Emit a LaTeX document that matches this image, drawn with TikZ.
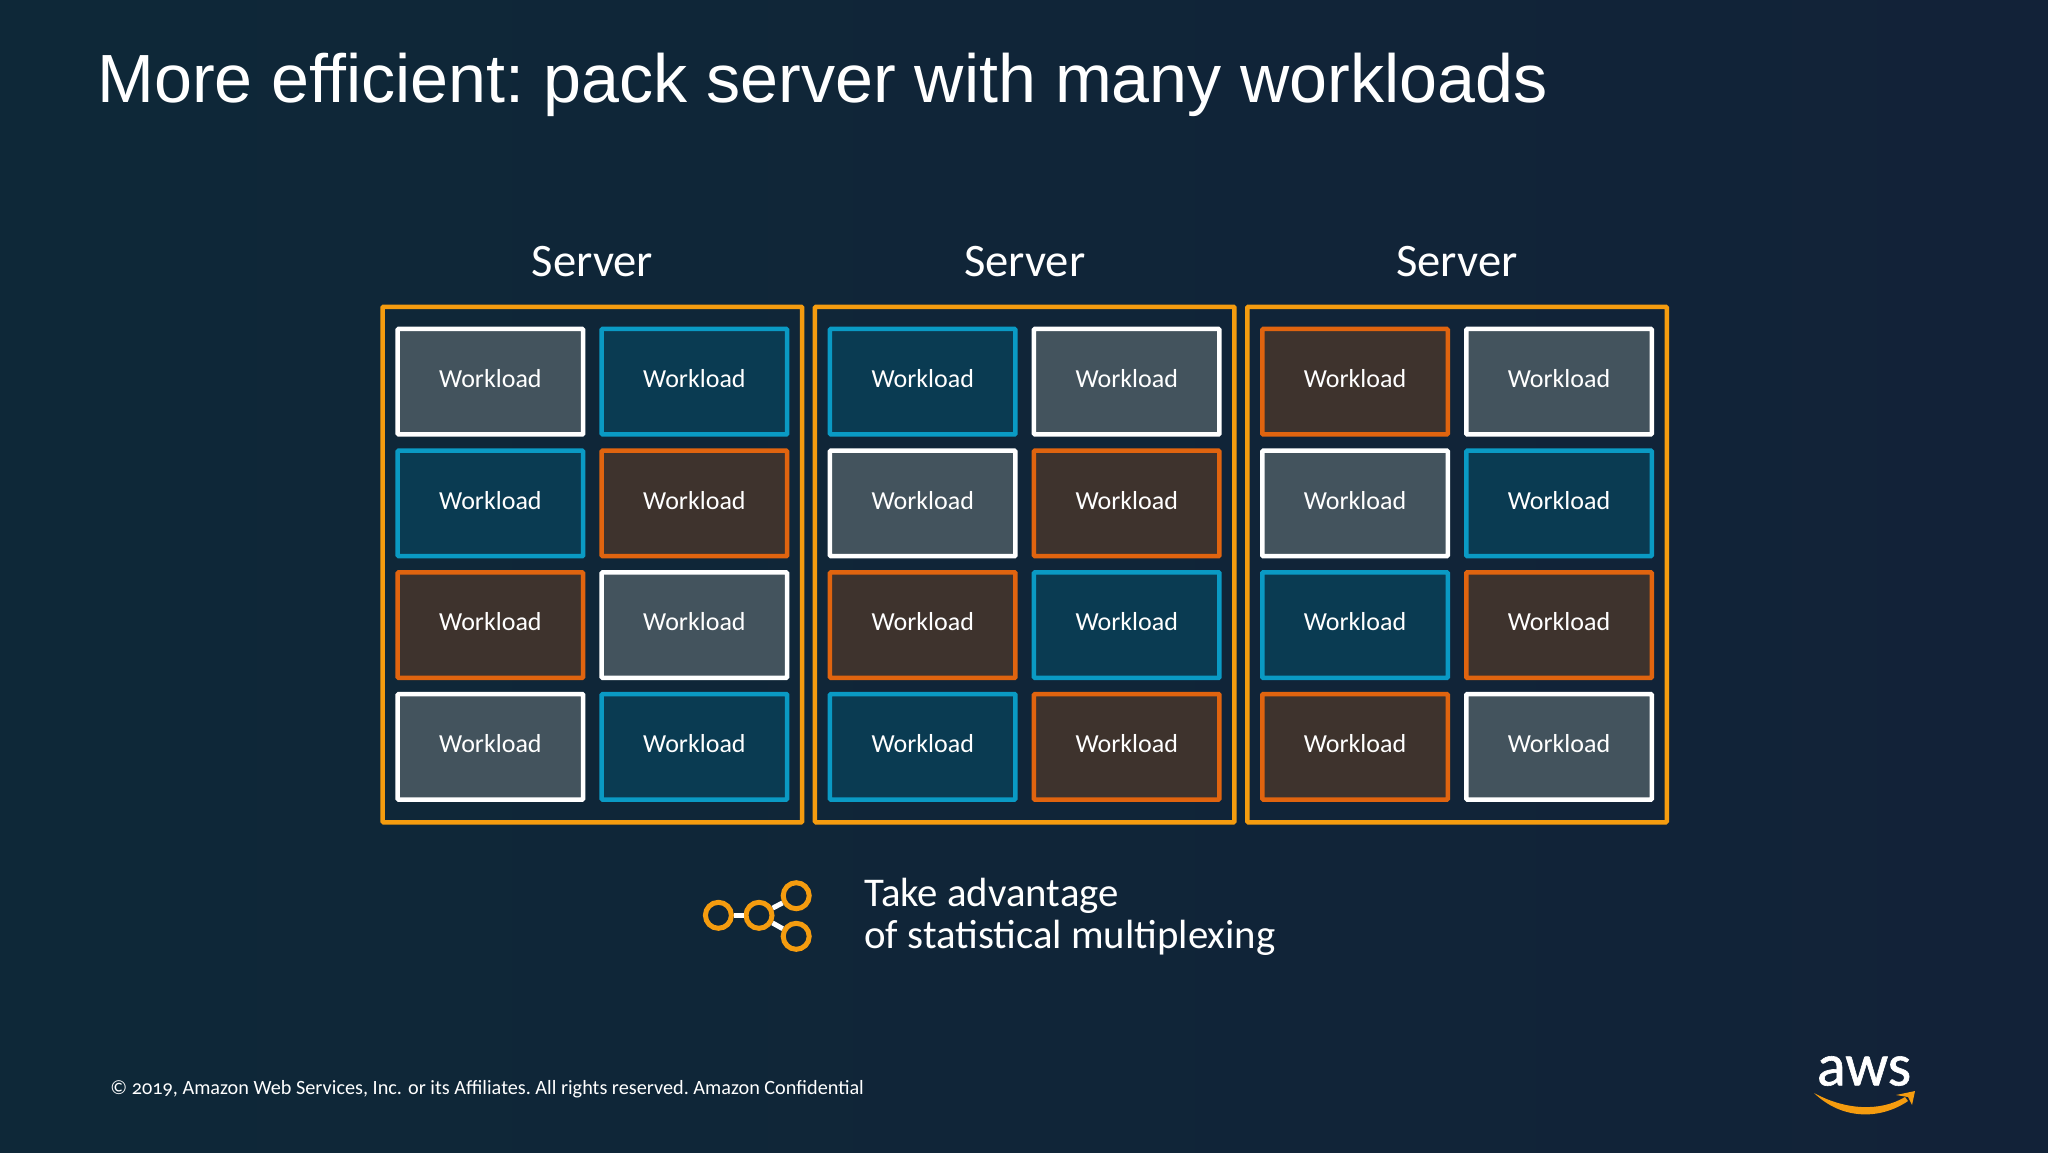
\documentclass[tikz,border=0pt]{standalone}
\usepackage{fontspec}
\setmainfont{Carlito}[Numbers=OldStyle]
\newfontfamily\titlefont{Liberation Sans}
\newfontfamily\logofont{Carlito}[FakeBold=1]
\usetikzlibrary{positioning}
\definecolor{slidel}{HTML}{0E2838}
\definecolor{slider}{HTML}{122238}
\definecolor{amber}{HTML}{F59C0F}
\definecolor{skyline}{HTML}{0A9AC4}
\definecolor{skyfill}{HTML}{0A3B52}
\definecolor{rustline}{HTML}{E0640F}
\definecolor{rustfill}{HTML}{3E332D}
\definecolor{greyfill}{HTML}{43535D}
\tikzset{basic/.style={text=white,text badly centered}}
\tikzset{server/.style={draw=amber,line width=2.25pt,rounded corners=0.5pt,
                        minimum width=209.75pt,minimum height=257.75pt}}
\tikzset{load/.style={basic,line width=2.25pt,rounded corners=0.5pt,font=\fontsize{13}{13}\selectfont,
                      minimum width=92.75pt,minimum height=52.75pt,text depth=3.4pt}}
\tikzset{ww/.style={load,draw=white,fill=greyfill}}
\tikzset{bb/.style={load,draw=skyline,fill=skyfill}}
\tikzset{oo/.style={load,draw=rustline,fill=rustfill}}
\tikzset{hub/.style={circle,draw=amber,line width=2.5pt,minimum width=13pt,inner sep=0pt}}
\tikzset{hublink/.style={draw=white,line width=2.5pt}}
\begin{document}
\begin{tikzpicture}[x=0.5pt,y=-0.5pt]
    \useasboundingbox (0,0) rectangle (2048,1152);
    \shade[left color=slidel,right color=slider] (0,0) rectangle (2048,1152);
    % Title
    \node[basic,anchor=base west,inner sep=0pt,font=\titlefont\frenchspacing\fontsize{34.1}{34}\selectfont] (title)
        at (97,102) {More efficient: pack server with many workloads};
    % Draw server frames with their workloads
    \foreach \kinds [count=\s from 0] in {{ww,bb,bb,oo,oo,ww,ww,bb},
                                          {bb,ww,ww,oo,oo,bb,bb,oo},
                                          {oo,ww,ww,bb,bb,oo,oo,ww}}{%
        \pgfmathsetmacro{\sx}{592.4+432.3*\s}
        \node[server] (s\s) at (\sx,564.5) {};
        \node[basic,above=10.5pt of s\s,font=\fontsize{23.3}{23.3}\selectfont] (slabel\s) {Server};
        \foreach \k [count=\i from 0] in \kinds {%
            \pgfmathsetmacro{\lx}{\sx-102+204*mod(\i,2)}
            \pgfmathsetmacro{\ly}{381.7+121.7*floor(\i/2)}
            \node[\k] (w\s-\i) at (\lx,\ly) {Workload};
        }
    }
    % Small network icon
    \node[hub] (h1) at (718.4,915.3) {};
    \node[hub] (h2) at (759,915.3) {};
    \node[hub] (h3) at (796.2,895.7) {};
    \node[hub] (h4) at (796.2,936.3) {};
    \draw[hublink] (h1) -- (h2);
    \draw[hublink] (h2) -- (h3);
    \draw[hublink] (h2) -- (h4);
    % Note beside the icon
    \node[basic,anchor=west,inner sep=0pt,align=left,font=\fontsize{20.4}{21}\selectfont] (note)
        at (864,917) {Take advantage\\of statistical multiplexing};
    % Footer
    \node[basic,anchor=base west,inner sep=0pt,font=\fontsize{10.12}{10}\selectfont] (footer)
        at (110,1094) {© 2019, Amazon Web Services, Inc. or its Affiliates.\ All rights reserved.\ Amazon Confidential};
    % Logo
    \node[basic,inner sep=0pt,font=\logofont\fontsize{30}{30}\selectfont] (aws) at (1864,1071) {aws};
    \fill[amber] (1814,1093) .. controls (1845,1110) and (1880,1112) .. (1905,1097)
        -- (1908,1101) .. controls (1880,1120) and (1842,1120) .. (1814,1093) -- cycle;
    \fill[amber] (1896,1095) -- (1915,1091) -- (1912,1105) -- (1908,1097) -- cycle;
\end{tikzpicture}
\end{document}
